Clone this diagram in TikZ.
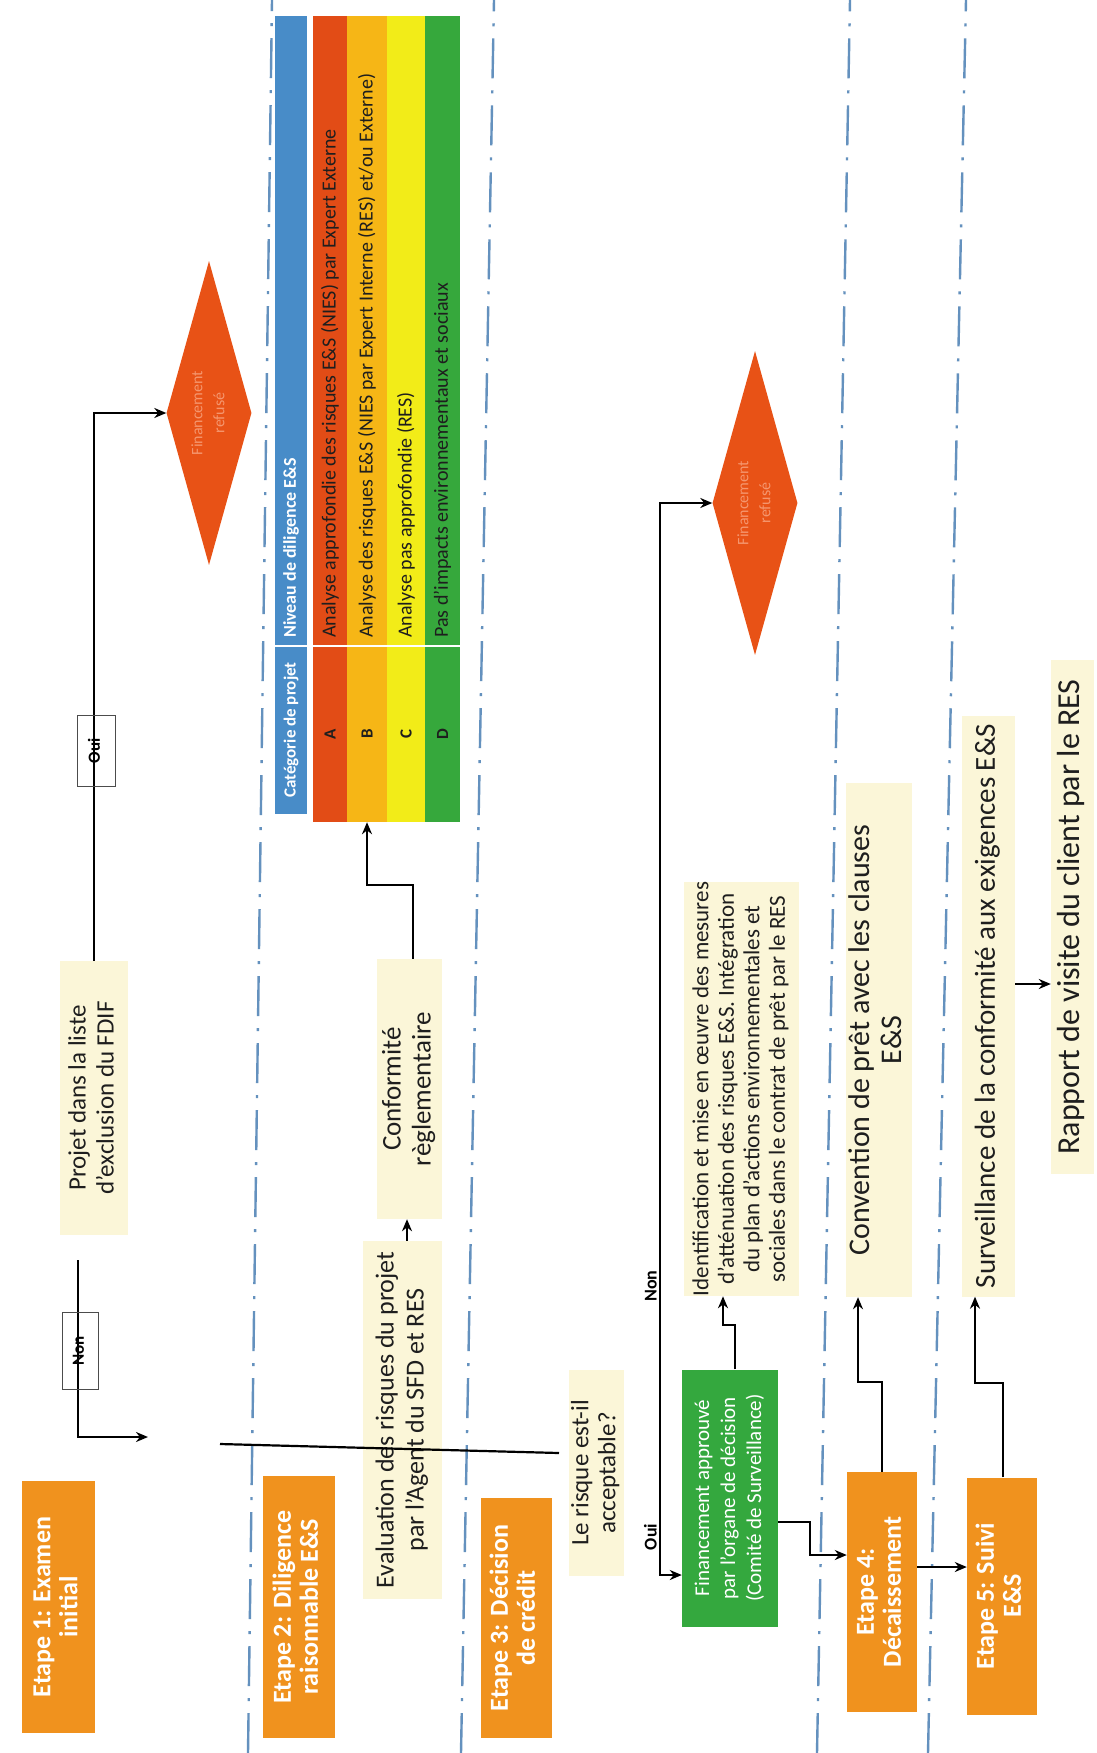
\documentclass[tikz,border=0pt]{standalone}
\usepackage{fontspec}
\setmainfont{Carlito}
\usepackage{graphicx}
\usetikzlibrary{arrows.meta,shapes.geometric}
\definecolor{etor}{RGB}{240,146,30}
\definecolor{diared}{RGB}{232,82,22}
\definecolor{diatxt}{RGB}{245,150,110}
\definecolor{lyel}{RGB}{251,246,216}
\definecolor{gbox}{RGB}{52,168,62}
\definecolor{tblue}{RGB}{72,140,200}
\definecolor{tred}{RGB}{226,76,22}
\definecolor{tor}{RGB}{246,182,22}
\definecolor{tyel}{RGB}{242,236,24}
\definecolor{tgreen}{RGB}{54,168,60}
\definecolor{sepc}{RGB}{100,145,190}
\definecolor{txt}{RGB}{30,30,30}
\newcommand\myfs[2]{\fontsize{#1}{#2}\selectfont}
\newcommand\rt[1]{\rotatebox{90}{\begin{tabular}{@{}c@{}}#1\end{tabular}}}
\begin{document}
\begin{tikzpicture}[x=1pt,y=-1pt,
  bx/.style={inner sep=0pt, align=center, text=txt},
  ybox/.style={bx, fill=lyel},
  etape/.style={bx, fill=etor, text=white, font=\bfseries\myfs{26}{27}},
  dia/.style={diamond, fill=diared, inner sep=0pt, aspect=0.28, text=diatxt, font=\myfs{16}{22}},
  sepline/.style={draw=sepc, line width=2.4pt, dash pattern=on 40pt off 12pt on 3pt off 12pt},
  conn/.style={draw=black, line width=2.2pt},
  arr/.style={conn, -{Stealth[length=12pt,width=10pt]}},
  lab/.style={bx, draw=black!70, line width=0.8pt, font=\bfseries\myfs{17}{19}, text=black},
  plainlab/.style={inner sep=1pt, font=\bfseries\myfs{18}{20}, text=black},
  cellfill/.style={inner sep=0pt, minimum height=806pt},
  rowtxt/.style={anchor=south, inner sep=0pt, font=\myfs{20}{22}, text=txt},
  rowcat/.style={inner sep=0pt, font=\bfseries\myfs{17}{19}, text=txt}
]
\fill[white] (0,0) rectangle (1096,1753);
\useasboundingbox (0,0) rectangle (1096,1753);

% lane separators
\draw[sepline] (248,1753) -- (272,0);
\draw[sepline] (461,1753) -- (494,0);
\draw[sepline] (817,1753) -- (850,0);
\draw[sepline] (928,1753) -- (966,0);

% stage boxes
\node[etape, minimum width=73pt, minimum height=252pt] (e1) at (58.5,1607) {\rt{Etape 1: Examen\\initial}};
\node[etape, minimum width=72pt, minimum height=262pt] (e2) at (299,1607) {\rt{Etape 2: Diligence\\raisonnable E\&S}};
\node[etape, minimum width=71pt, minimum height=240pt] (e3) at (516,1618) {\rt{Etape 3: Décision\\de crédit}};
\node[etape, minimum width=70pt, minimum height=240pt] (e4) at (882,1592) {\rt{Etape 4:\\Décaissement}};
\node[etape, minimum width=70pt, minimum height=237pt] (e5) at (1002,1596) {\rt{Etape 5: Suivi\\E\&S}};

% text boxes
\node[ybox, minimum width=68pt, minimum height=274pt, font=\myfs{25}{28}] (proj) at (94,1098) {\rt{Projet dans la liste\\d'exclusion du FDIF}};
\node[ybox, minimum width=79pt, minimum height=358pt, font=\myfs{26}{30}] (eval) at (402.5,1420) {\rt{Evaluation des risques du projet\\par l'Agent du SFD et RES}};
\node[ybox, minimum width=65pt, minimum height=260pt, font=\myfs{27}{30}] (conf) at (409.5,1089) {\rt{Conformité\\règlementaire}};
\node[ybox, minimum width=55pt, minimum height=206pt, font=\myfs{25}{27}] (risk) at (596.5,1473) {\rt{Le risque est-il\\acceptable?}};
\node[bx, fill=gbox, text=white, minimum width=96pt, minimum height=257pt, font=\myfs{21}{26}] (green) at (730,1498) {\rt{Financement approuvé\\par l'organe de décision\\(Comité de Surveillance)}};
\node[ybox, minimum width=115pt, minimum height=412pt, font=\myfs{23}{25.5}] (ident) at (741.5,1089) {\rt{Identification et mise en œuvre des mesures\\d'atténuation des risques E\&S. Intégration\\du plan d'actions environnementales et\\sociales dans le contrat de prêt par le RES}};
\node[ybox, minimum width=66pt, minimum height=514pt, font=\myfs{30}{32}] (conv) at (879,1040) {\rt{Convention de prêt avec les clauses\\E\&S}};
\node[ybox, minimum width=53pt, minimum height=581pt, font=\myfs{29}{32}] (surv) at (988.5,1006) {\rt{Surveillance de la conformité aux exigences E\&S}};
\node[ybox, minimum width=43pt, minimum height=514pt, font=\myfs{32}{34}] (rap) at (1072.5,917) {\rt{Rapport de visite du client par le RES}};

% diamonds
\node[dia, minimum width=85pt, minimum height=304pt] (d1) at (209,413) {\rt{Financement\\refusé}};
\node[dia, minimum width=85pt, minimum height=304pt] (d2) at (755,503) {\rt{Financement\\refusé}};

% classification table
\node[cellfill, fill=tblue, minimum width=32pt, minimum height=798pt] (thead) at (291,415) {};
\node[cellfill, fill=tred, minimum width=34pt] (rowA) at (330,419) {};
\node[cellfill, fill=tor, minimum width=40pt] (rowB) at (367,419) {};
\node[cellfill, fill=tyel, minimum width=38pt] (rowC) at (406,419) {};
\node[cellfill, fill=tgreen, minimum width=35pt] (rowD) at (442.5,419) {};
\draw[white, line width=2pt] (275,646) -- (460,646);
\node[rowcat, text=white, font=\bfseries\myfs{17}{19}] at (291,730) {\rotatebox{90}{Catégorie de projet}};
\node[rowtxt, text=white, font=\bfseries\myfs{18}{20}] at (291,638) {\rotatebox{90}{Niveau de diligence E\&S}};
\node[rowcat] at (330,734) {\rotatebox{90}{A}};
\node[rowcat] at (367,734) {\rotatebox{90}{B}};
\node[rowcat] at (406,734) {\rotatebox{90}{C}};
\node[rowcat] at (442.5,734) {\rotatebox{90}{D}};
\node[rowtxt] at (330,638) {\rotatebox{90}{Analyse approfondie des risques E\&S (NIES) par Expert Externe}};
\node[rowtxt] at (367,638) {\rotatebox{90}{Analyse des risques E\&S (NIES par Expert Interne (RES) et/ou Externe)}};
\node[rowtxt] at (406,638) {\rotatebox{90}{Analyse pas approfondie (RES)}};
\node[rowtxt] at (442.5,638) {\rotatebox{90}{Pas d'impacts environnementaux et sociaux}};

% connectors lane 1
\draw[arr] (proj.north) |- (d1.west);
\node[lab, minimum width=38pt, minimum height=71pt] (oui1) at (96,751) {\rt{Oui}};
\coordinate (nonend) at (148,1437);
\draw[arr, shorten <=25pt] ([xshift=-16pt]proj.south) |- (nonend);
\node[lab, minimum width=36pt, minimum height=77pt] (non1) at (80,1351) {\rt{Non}};

% long line to decision
\coordinate (la) at (220,1444);
\coordinate (lb) at (559,1453);
\draw[conn] (la) -- (lb);

% lane 2
\draw[arr] (eval.north -| 407,0) -- (conf.south -| 407,0);
\draw[arr] (conf.north -| 413,0) |- (367,885) -- (rowB.south);

% lane 3 decision
\coordinate (qv) at (660,1473);
\draw[arr] (qv) |- (d2.west);
\draw[arr] (qv) |- (green.west |- 0,1575);
\node[plainlab, anchor=east] (non2) at (658,1286) {\rotatebox{90}{Non}};
\node[plainlab, anchor=east] (oui2) at (658,1537) {\rotatebox{90}{Oui}};
\draw[arr] (green.north -| 735,0) |- (723,1325) -- (ident.south -| 723,0);
\draw[arr] (green.east |- 0,1522) -| (810,1555) -- (e4.west |- 0,1555);

% lanes 4 and 5
\draw[arr] (e4.east |- 0,1567) -- (e5.west |- 0,1567);
\draw[arr] (e4.north -| 882,0) |- (858,1382) -- (conv.south -| 858,0);
\draw[arr] (e5.north -| 1003,0) |- (975,1383) -- (surv.south -| 975,0);
\draw[arr] (surv.east |- 0,984) -- (rap.west |- 0,984);
\end{tikzpicture}
\end{document}
